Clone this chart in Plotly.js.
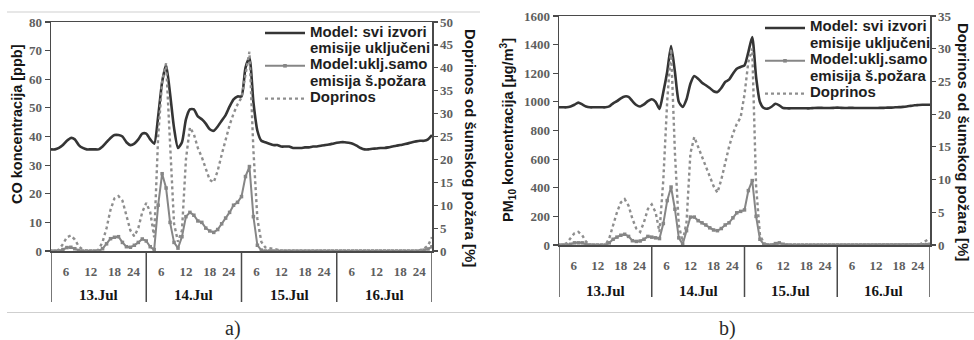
<!DOCTYPE html>
<html><head><meta charset="utf-8">
<script src="https://cdn.plot.ly/plotly-3.0.1.min.js"></script>
<style>html,body{margin:0;padding:0;background:#fff;}#chart{width:974px;height:340px;}</style>
</head><body><div id="chart"></div>
<script>
// ---------- data ----------
const hours = [0,1,2,3,4,5,6,7,8,9,10,11,12,13,14,15,16,17,18,19,20,21,22,23,24,25,26,27,28,29,30,31,32,33,34,35,36,37,38,39,40,41,42,43,44,45,46,47,48,49,50,51,52,53,54,55,56,57,58,59,60,61,62,63,64,65,66,67,68,69,70,71,72,73,74,75,76,77,78,79,80,81,82,83,84,85,86,87,88,89,90,91,92,93,94,95,96];
const dayLabels = ['13.Jul','14.Jul','15.Jul','16.Jul'];
const hourLabels = ['6','12','18','24'];
const seriesNames = ['Model: svi izvori<br>emisije uključeni','Model:uklj.samo<br>emisija š.požara','Doprinos'];

// panel a: CO [ppb] and contribution [%]
const coAll = [35.5,35.5,36,37,38.5,39.5,39,37,36,35.5,
  35.5,35.5,35.5,36.5,38,39.5,40.5,40.5,40,38,
  37,37.5,39,41,41,39,37.5,47,59,65,
  55,43,36,38,46,49.5,49.5,47,46,44.5,
  42.5,42,43.5,45.5,47.5,50.5,53,54,54,64,
  67.5,52,42,38.5,38,37.5,37,37,36.5,36.5,
  36.5,36,36,36,36.2,36.2,36.5,36.5,36.8,37,
  37.2,37.5,37.8,38,38,37.8,37.5,36.8,36,35.5,
  35.5,35.7,35.8,36,36,36.2,36.5,36.8,37,37.3,
  37.6,38,38.3,38.5,38.5,39,40.5];
const coFire = [0,0,0,0.5,1.2,1.3,0.8,0.2,0,0,
  0,0,0,0.8,2.5,4.3,4.8,5,3,1.5,
  1.3,2,3,4.2,3.5,1.5,0.5,16,27,22,
  10,3,1,5,12,13.5,12.5,10.5,10,8,
  7,6.5,7.5,9.5,11.5,13.5,16,17,19,26,
  29.5,12,2,0.3,0,0,0,0,0,0,
  0,0,0,0,0,0,0,0,0,0,
  0,0,0,0,0,0,0,0,0,0,
  0,0,0,0,0,0,0,0,0,0,
  0,0,0,0.1,0.3,0.7,1.5];
const coShare = [0,0,0.3,1.5,3,3.4,2.5,1,0.3,0,
  0,0,0.3,2,5,9,11.5,12,11,7.5,
  4.5,3.2,5,8.5,10.5,8.5,3,25,37,41,
  24,6,2,4.5,20,27,25.5,22.5,20.5,18,
  15.5,15,17.5,21,24.5,27.5,30,32,33.5,39,
  43.5,22,7,2,0.8,0.6,0.5,0.3,0,0,
  0,0,0,0,0,0,0,0,0,0,
  0,0,0,0,0,0,0,0,0,0,
  0,0,0,0,0,0,0,0,0,0,
  0,0,0,0.2,0.5,1.2,3];

// panel b: PM10 [ug/m3] and contribution [%]
const pmAll = [962,962,962,968,980,995,982,968,962,962,
  962,962,962,968,990,1005,1025,1038,1035,1005,
  978,968,982,1005,1018,1000,950,1069,1210,1390,
  1209,1000,964,1018,1127,1181,1162,1134,1116,1097,
  1074,1069,1097,1139,1155,1197,1232,1244,1255,1348,
  1453,1174,999,957,953,966,987,976,957,955,
  955,955,955,955,955,955,957,958,958,957,
  957,958,960,958,957,958,958,957,957,957,
  957,957,957,958,958,960,960,962,963,965,
  968,972,976,978,980,980,980];
const pmFire = [0,0,0,5,15,15,15,5,0,0,
  0,0,0,15,40,55,68,75,60,30,
  25,28,40,60,55,50,45,150,310,405,
  250,50,5,100,195,195,170,155,140,120,
  105,100,115,140,155,190,225,235,245,380,
  450,200,40,5,0,0,10,15,5,0,
  0,0,0,0,0,0,0,0,0,0,
  0,0,0,0,0,0,0,0,0,0,
  0,0,0,0,0,0,0,0,0,0,
  0,0,0,0,2,3,5];
const pmShare = [0,0,0.3,1,1.8,2,1.5,0.5,0,0,
  0,0,0,1,3,5,6.5,7,6,4,
  2.5,2,3.5,5.5,6.2,5,2,10,22,30,
  14,3,0.5,3.5,14,16.5,15,13.5,12,10.5,
  9,8,10,12.5,15,17,18.5,19.5,23,28,
  30,9,1.5,0.3,0,0,0,0,0,0,
  0,0,0,0,0,0,0,0,0,0,
  0,0,0,0,0,0,0,0,0,0,
  0,0,0,0,0,0,0,0,0,0,
  0,0,0,0,0.3,0.6,1];

// ---------- styles ----------
const W = 974, H = 340;
const px = v => v / W, py = v => (H - v) / H;
const dark = '#353535', mid = '#868686', dotc = '#8e8e8e', axisCol = '#4a4a4a';
const serif = 'Liberation Serif, Times New Roman, serif';
const sans = 'Liberation Sans, Arial, sans-serif';
const tickFont = {family: serif, size: 13, color: '#5e5e5e', weight: 'bold'};
const labelPos = [3.8, 10, 16, 20.8];
const tickvals = [], ticktext = [];
dayLabels.forEach((d, i) => labelPos.forEach((p, j) => { tickvals.push(24 * i + p); ticktext.push(hourLabels[j]); }));

const lineStyles = [
  {color: dark, width: 2.6},
  {color: mid, width: 2},
  {color: dotc, width: 2.4, dash: 'dot'}
];

function panelTraces(xa, yl, yr, all, fire, share) {
  return [
    {x: hours, y: all, xaxis: xa, yaxis: yl, name: seriesNames[0], showlegend: false,
     mode: 'lines', line: Object.assign({shape: 'spline', smoothing: 0.6}, lineStyles[0])},
    {x: hours, y: fire, xaxis: xa, yaxis: yl, name: seriesNames[1], showlegend: false,
     mode: 'lines+markers', line: lineStyles[1], marker: {symbol: 'square', size: 3.5, color: mid}},
    {x: hours, y: share, xaxis: xa, yaxis: yr, name: seriesNames[2], showlegend: false,
     mode: 'lines', line: lineStyles[2]}
  ];
}
const data = [].concat(
  panelTraces('x', 'y', 'y2', coAll, coFire, coShare),
  panelTraces('x2', 'y3', 'y4', pmAll, pmFire, pmShare)
);

function xAxis(dom, anchor) {
  return {domain: dom, anchor: anchor, range: [0, 96], showline: true, mirror: true, linecolor: axisCol, linewidth: 1.5,
    showgrid: false, zeroline: false, tickmode: 'array', tickvals: tickvals, ticktext: ticktext, ticks: '',
    tickfont: tickFont, ticklabelstandoff: 8, fixedrange: true};
}
function yLeft(dom, anchor, max, dt) {
  return {domain: dom, anchor: anchor, range: [0, max], dtick: dt, tick0: 0, ticks: 'outside', ticklen: 5, tickcolor: axisCol,
    tickwidth: 1.2, showline: true, linecolor: axisCol, linewidth: 1.5, showgrid: false, zeroline: false, tickfont: tickFont, fixedrange: true};
}
function yRight(over, anchor, max, inside) {
  return {overlaying: over, anchor: anchor, side: 'right', range: [0, max], dtick: 5, tick0: 0,
    ticks: inside ? 'inside' : 'outside', ticklen: 4, tickcolor: axisCol, tickwidth: 1.2,
    showline: !inside, linecolor: axisCol, linewidth: 1.5, showgrid: false, zeroline: false,
    showticklabels: !inside, tickfont: tickFont, fixedrange: true};
}

const domXa = [px(51), px(432)], domYa = [py(251), py(22)];
const domXb = [px(559), px(930)], domYb = [py(245), py(16)];

const shapes = [
  {type: 'line', xref: 'paper', yref: 'paper', x0: px(7), x1: px(480), y0: py(12), y1: py(12), line: {color: '#cfcfcf', width: 1}},
  {type: 'line', xref: 'paper', yref: 'paper', x0: px(7), x1: 1, y0: py(312.5), y1: py(312.5), line: {color: '#cfcfcf', width: 1}}
];
for (let d = 0; d <= dayLabels.length; d++) {
  shapes.push({type: 'line', xref: 'x', yref: 'paper', x0: 24 * d, x1: 24 * d, y0: py(251), y1: py(302), line: {color: axisCol, width: 1.5}});
  shapes.push({type: 'line', xref: 'x2', yref: 'paper', x0: 24 * d, x1: 24 * d, y0: py(245), y1: py(297), line: {color: axisCol, width: 1.5}});
}

const titleFont = {family: sans, size: 14.5, color: '#151515', weight: 'bold'};
const annotations = [];
function ann(o) { annotations.push(Object.assign({showarrow: false, xanchor: 'center', yanchor: 'middle'}, o)); }
dayLabels.forEach((d, i) => {
  ann({xref: 'x', yref: 'paper', x: 24 * i + 12, y: py(295), text: d, font: {family: serif, size: 15, color: '#151515', weight: 'bold'}});
  ann({xref: 'x2', yref: 'paper', x: 24 * i + 12, y: py(291), text: d, font: {family: serif, size: 15, color: '#151515', weight: 'bold'}});
});
ann({xref: 'paper', yref: 'paper', x: px(17), y: py(124), text: 'CO koncentracija [ppb]', textangle: -90, font: titleFont});
ann({xref: 'paper', yref: 'paper', x: px(508), y: py(130), text: 'PM<sub>10</sub> koncentracija [µg/m<sup>3</sup>]', textangle: -90, font: titleFont});
ann({xref: 'paper', yref: 'paper', x: px(471), y: py(148), text: 'Doprinos od šumskog požara [%]', textangle: 90, font: Object.assign({}, titleFont, {size: 15})});
ann({xref: 'paper', yref: 'paper', x: px(964), y: py(142), text: 'Doprinos od šumskog požara [%]', textangle: 90, font: Object.assign({}, titleFont, {size: 15})});
ann({xref: 'paper', yref: 'paper', x: px(233), y: py(328), text: 'a)', font: {family: serif, size: 20, color: '#2a2a2a'}});
ann({xref: 'paper', yref: 'paper', x: px(727), y: py(328), text: 'b)', font: {family: serif, size: 20, color: '#2a2a2a'}});

// ---------- hand-set legends (tight line spacing like the original) ----------
const legendFont = {family: sans, size: 15, color: '#1e1e1e', weight: 'bold'};
function drawLegend(box) {
  const textLines = [];
  seriesNames.forEach(n => n.split('<br>').forEach(t => textLines.push(t)));
  textLines.forEach((t, k) => ann({xref: 'paper', yref: 'paper', x: px(box.tx), y: py(box.y0 + k * box.pitch), text: t,
    xanchor: 'left', font: legendFont}));
  let k = 0;
  seriesNames.forEach((n, i) => {
    const yy = py(box.y0 + k * box.pitch + 2);
    shapes.push({type: 'line', xref: 'paper', yref: 'paper', x0: px(box.sx0), x1: px(box.sx1), y0: yy, y1: yy, line: lineStyles[i]});
    if (i === 1) {
      const cx = (box.sx0 + box.sx1) / 2;
      shapes.push({type: 'rect', xref: 'paper', yref: 'paper', x0: px(cx - 1.8), x1: px(cx + 1.8),
        y0: yy - 1.8 / H, y1: yy + 1.8 / H, line: {width: 0}, fillcolor: mid});
    }
    k += n.split('<br>').length;
  });
}
drawLegend({sx0: 265, sx1: 305, tx: 308, y0: 31, pitch: 16.4});
drawLegend({sx0: 765, sx1: 805, tx: 808, y0: 26, pitch: 16.4});

const layout = {
  width: W, height: H, margin: {l: 0, r: 0, t: 0, b: 0},
  paper_bgcolor: '#ffffff', plot_bgcolor: 'rgba(0,0,0,0)', showlegend: false,
  xaxis: xAxis(domXa, 'y'),
  yaxis: yLeft(domYa, 'x', 80, 10),
  yaxis2: yRight('y', 'x', 50, false),
  yaxis5: yRight('y', 'x', 50, true),
  xaxis2: xAxis(domXb, 'y3'),
  yaxis3: yLeft(domYb, 'x2', 1600, 200),
  yaxis4: yRight('y3', 'x2', 35, false),
  yaxis6: yRight('y3', 'x2', 35, true),
  shapes: shapes,
  annotations: annotations
};
Plotly.newPlot('chart', data, layout, {displayModeBar: false, staticPlot: true});
</script></body></html>
